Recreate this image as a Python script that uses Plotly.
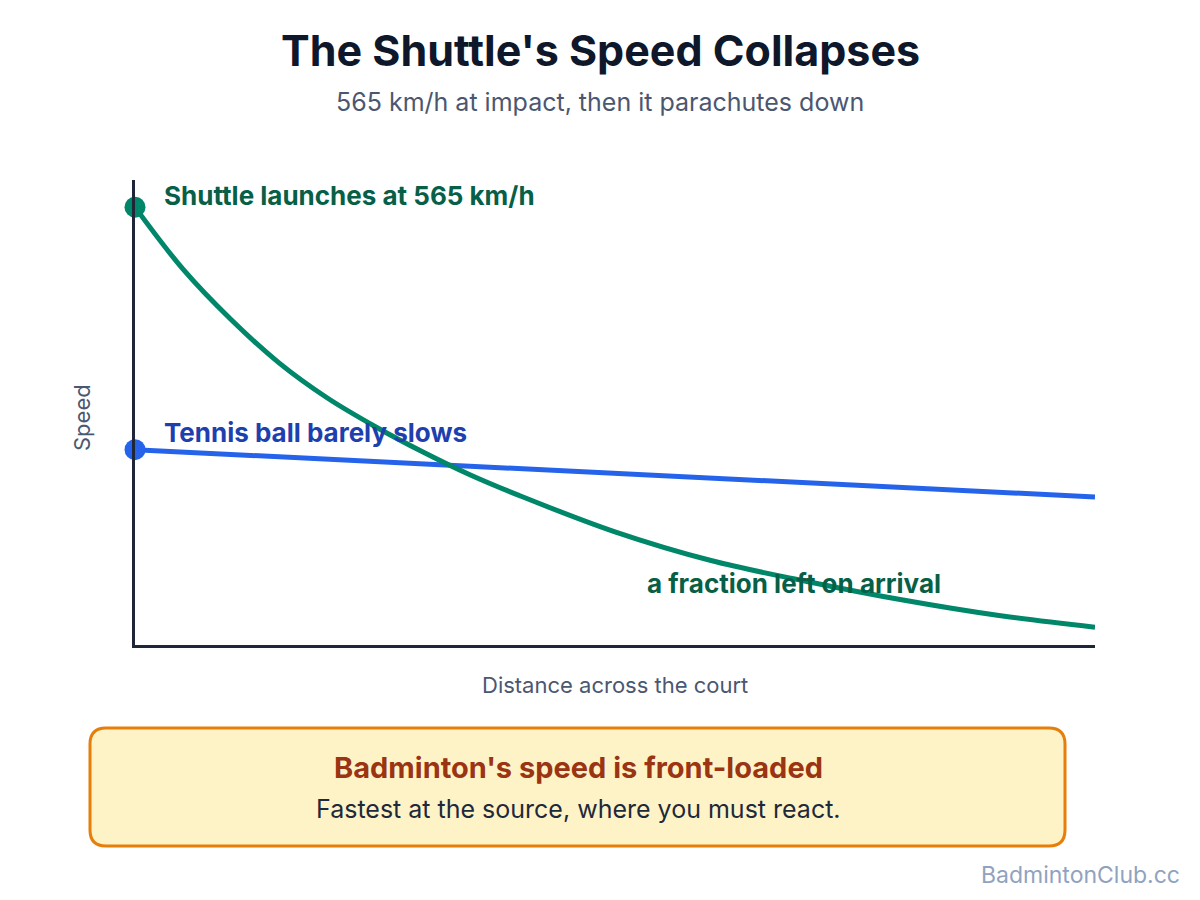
import plotly.graph_objects as go

# ---- data ----
distance = [0, 5, 10, 15, 20, 25, 30, 35, 40, 50, 60, 70, 80, 90, 100]
shuttle_speed = [565, 485, 420, 364, 319, 282, 249, 219, 193, 146, 109, 82, 58, 38, 23]
tennis_distance = [0, 50, 100]
tennis_speed = [252, 221, 191]

title_text = "The Shuttle's Speed Collapses"
subtitle_text = "565 km/h at impact, then it parachutes down"
x_title = "Distance across the court"
y_title = "Speed"
shuttle_label = "Shuttle launches at 565 km/h"
tennis_label = "Tennis ball barely slows"
arrival_label = "a fraction left on arrival"
callout_title = "Badminton's speed is front-loaded"
callout_text = "Fastest at the source, where you must react."
watermark = "BadmintonClub.cc"

# ---- layout geometry (pixels) ----
W, H = 1200, 900
L, R, T, B = 135, 1095, 180, 645
FONT = "Inter, Roboto, sans-serif"


def px(x):
    return (x - L) / (R - L)


def py(y):
    return (B - y) / (B - T)


GREEN = "#00876a"
GREEN_TXT = "#065f46"
BLUE = "#2563eb"
BLUE_TXT = "#1e40af"

fig = go.Figure()
fig.add_trace(go.Scatter(
    x=tennis_distance, y=tennis_speed, mode="lines",
    line=dict(color=BLUE, width=5), hoverinfo="skip", cliponaxis=False))
fig.add_trace(go.Scatter(
    x=distance, y=shuttle_speed, mode="lines",
    line=dict(color=GREEN, width=5, shape="spline", smoothing=1.0),
    hoverinfo="skip", cliponaxis=False))
fig.add_trace(go.Scatter(
    x=[distance[0]], y=[shuttle_speed[0]], mode="markers",
    marker=dict(color=GREEN, size=21), hoverinfo="skip", cliponaxis=False))
fig.add_trace(go.Scatter(
    x=[tennis_distance[0]], y=[tennis_speed[0]], mode="markers",
    marker=dict(color=BLUE, size=21), hoverinfo="skip", cliponaxis=False))

# rounded callout box
bx0, bx1, by0, by1, rad = 90, 1065, 728, 846, 16
rx = rad / (R - L)
ry = rad / (B - T)
X0, X1 = px(bx0), px(bx1)
Y0, Y1 = py(by1), py(by0)  # bottom, top in paper
path = (
    f"M {X0+rx},{Y0} L {X1-rx},{Y0} Q {X1},{Y0} {X1},{Y0+ry} "
    f"L {X1},{Y1-ry} Q {X1},{Y1} {X1-rx},{Y1} "
    f"L {X0+rx},{Y1} Q {X0},{Y1} {X0},{Y1-ry} "
    f"L {X0},{Y0+ry} Q {X0},{Y0} {X0+rx},{Y0} Z"
)
fig.add_shape(type="path", path=path, xref="paper", yref="paper",
              fillcolor="#fef3c7", line=dict(color="#e67e0a", width=3), layer="below")

ann = []


def add(text, x, y, size, color, bold=False, xanchor="center", textangle=0):
    ann.append(dict(
        text=f"<b>{text}</b>" if bold else text,
        x=px(x), y=py(y), xref="paper", yref="paper",
        xanchor=xanchor, yanchor="middle", showarrow=False, textangle=textangle,
        font=dict(family=FONT, size=size, color=color)))


add(title_text, 600, 50, 43, "#0f172a", bold=True)
add(subtitle_text, 600, 102, 25, "#4b5770")
add(shuttle_label, 162, 195, 26, GREEN_TXT, bold=True, xanchor="left")
add(tennis_label, 162, 432, 26, BLUE_TXT, bold=True, xanchor="left")
add(arrival_label, 645, 583, 26, GREEN_TXT, bold=True, xanchor="left")
add(x_title, 615, 685, 22, "#4b5770")
add(y_title, 82, 418, 22, "#4b5770", textangle=-90)
add(callout_title, 578, 767, 29, "#9a3412", bold=True)
add(callout_text, 578, 809, 25, "#1e293b")
add(watermark, 1182, 875, 23, "#8fa3bf", xanchor="right")

fig.update_layout(
    width=W, height=H,
    margin=dict(l=L, r=W - R, t=T, b=H - B, pad=0),
    paper_bgcolor="white", plot_bgcolor="white",
    showlegend=False,
    annotations=ann,
    font=dict(family=FONT),
    xaxis=dict(range=[0, 100], showgrid=False, zeroline=False, showticklabels=False,
               ticks="", showline=True, linecolor="#1e2638", linewidth=3, fixedrange=True),
    yaxis=dict(range=[0, 600], showgrid=False, zeroline=False, showticklabels=False,
               ticks="", showline=True, linecolor="#1e2638", linewidth=3, fixedrange=True),
)

fig.write_html("out.html", config={"displayModeBar": False})
